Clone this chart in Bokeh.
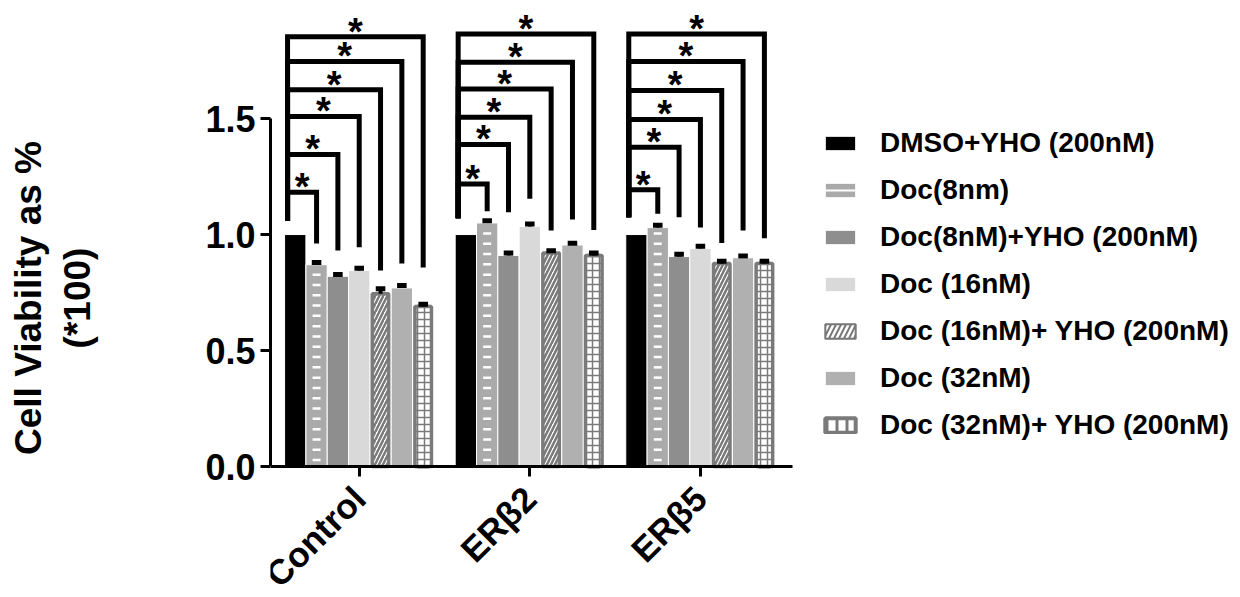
import math
import numpy as np
from bokeh.plotting import figure
from bokeh.models import Range1d, FixedTicker, Legend, LegendItem, PrintfTickFormatter, ColumnDataSource
from bokeh.core.properties import value
from bokeh.embed import file_html
from bokeh.resources import INLINE

# ---------------- data ----------------
groups = ["Control", "ERβ2", "ERβ5"]
treatments = ["DMSO+YHO (200nM)", "Doc(8nm)", "Doc(8nM)+YHO (200nM)", "Doc (16nM)",
              "Doc (16nM)+ YHO (200nM)", "Doc (32nM)", "Doc (32nM)+ YHO (200nM)"]

dmso_yho = [1.00, 1.00, 1.00]
doc8 = [0.87, 1.05, 1.03]
doc8_yho = [0.82, 0.91, 0.905]
doc16 = [0.845, 1.035, 0.94]
doc16_yho = [0.745, 0.92, 0.875]
doc32 = [0.77, 0.955, 0.90]
doc32_yho = [0.69, 0.91, 0.875]

err_dmso_yho = [0.0, 0.0, 0.0]
err_doc8 = [0.010, 0.010, 0.010]
err_doc8_yho = [0.008, 0.010, 0.010]
err_doc16 = [0.010, 0.010, 0.010]
err_doc16_yho = [0.021, 0.010, 0.010]
err_doc32 = [0.010, 0.008, 0.008]
err_doc32_yho = [0.010, 0.010, 0.010]

# significance brackets (vs DMSO+YHO), levels and right-leg ends per group
bracket_level_control = [1.182, 1.345, 1.509, 1.624, 1.746, 1.853]
bracket_level_erb2 = [1.218, 1.388, 1.506, 1.628, 1.743, 1.865]
bracket_level_erb5 = [1.193, 1.376, 1.496, 1.621, 1.746, 1.865]
bracket_end_control = [0.961, 0.931, 0.945, 0.845, 0.875, 0.858]
bracket_end_erb2 = [1.100, 1.096, 1.154, 1.017, 1.065, 1.020]
bracket_end_erb5 = [1.090, 1.075, 1.030, 0.964, 1.017, 0.984]
bracket_start = [1.06, 1.07, 1.075]

y_ticks = [0.0, 0.5, 1.0, 1.5]

means = [dmso_yho, doc8, doc8_yho, doc16, doc16_yho, doc32, doc32_yho]
errs = [err_dmso_yho, err_doc8, err_doc8_yho, err_doc16, err_doc16_yho, err_doc32, err_doc32_yho]
levels = [bracket_level_control, bracket_level_erb2, bracket_level_erb5]
ends = [bracket_end_control, bracket_end_erb2, bracket_end_erb5]

# ---------------- figure ----------------
FONT = "Liberation Sans"
X_LO, X_HI = -0.52, 2.54
p = figure(width=1238, height=595, output_backend="svg", toolbar_location=None,
           x_range=Range1d(X_LO, 5.154), y_range=Range1d(-0.556, 2.009),
           min_border_left=270, min_border_right=0, min_border_top=0, min_border_bottom=0)
p.outline_line_color = None
p.xgrid.visible = False
p.ygrid.visible = False

n = len(treatments)
slot = 0.125
gx = np.arange(len(groups))

def xs_for(i):
    return gx + (i - (n - 1) / 2) * slot

sources = [ColumnDataSource(dict(x=xs_for(i), top=means[i])) for i in range(n)]

# legend-only swatch renderers, drawn first so that the bars hide them
leg_line = p.line(x="x", y="top", source=sources[1], line_color="white", line_width=2)
leg_hatch1 = p.vbar(x="x", top="top", width=slot - 0.06, source=sources[4],
                    fill_color="#777777", line_color="#777777", line_width=2,
                    hatch_pattern="/", hatch_color="white", hatch_weight=2.5, hatch_scale=10)
leg_hatch2 = p.vbar(x="x", top="top", width=slot - 0.06, source=sources[6],
                    fill_color="white", line_color="#7a7a7a", line_width=4,
                    hatch_pattern="|", hatch_color="#7a7a7a", hatch_weight=3, hatch_scale=10)

solid_colors = {0: "#000000", 1: "#aaaaaa", 2: "#8e8e8e", 3: "#d9d9d9", 5: "#b0b0b0"}
renderers = {}
for i in range(n):
    src = sources[i]
    if i in solid_colors:
        r = p.vbar(x="x", top="top", width=slot, source=src, fill_color=solid_colors[i],
                   line_color="white", line_width=1)
    elif i == 4:
        r = p.vbar(x="x", top="top", width=slot - 0.028, source=src, fill_color="white",
                   line_color="#7a7a7a", line_width=3.5, hatch_pattern="/",
                   hatch_color="#7a7a7a", hatch_weight=2.5, hatch_scale=8)
    else:
        r = p.vbar(x="x", top="top", width=slot - 0.028, source=src, fill_color="white",
                   line_color="#7a7a7a", line_width=3.5, hatch_pattern="+",
                   hatch_color="#7a7a7a", hatch_weight=1.5, hatch_scale=7)
    renderers[i] = r

# white dashes texture on Doc(8nm) bars
dx, dy = [], []
for xv, mv in zip(xs_for(1), doc8):
    ys = np.arange(0.028, mv - 0.02, 0.0444)
    dx += [xv] * len(ys)
    dy += list(ys)
p.scatter(dx, dy, marker="dash", size=8, line_color="white", line_width=2.5)

# error bars (upper)
for i in range(n):
    xs = xs_for(i)
    for xv, mv, ev in zip(xs, means[i], errs[i]):
        if ev <= 0:
            continue
        p.segment(x0=[xv], y0=[mv], x1=[xv], y1=[mv + ev], line_color="black", line_width=4)
        p.segment(x0=[xv - 0.028], y0=[mv + ev], x1=[xv + 0.028], y1=[mv + ev],
                  line_color="black", line_width=5)

# significance brackets
bx, by = [], []
sx, sy = [], []
for g in range(len(groups)):
    xl = xs_for(0)[g] - 0.045
    for k in range(n - 1):
        xr = xs_for(k + 1)[g]
        lv = levels[g][k]
        bx.append([xl, xl, xr, xr])
        by.append([bracket_start[g], lv, lv, ends[g][k]])
        sx.append((xl + xr) / 2)
        sy.append(lv + 0.022)
p.multi_line(bx, by, line_color="black", line_width=5, line_join="miter", line_cap="butt")
p.text(sx, sy, text=["*"] * len(sx), text_font=value(FONT), text_font_style="bold",
       text_font_size="38px", text_align="center", text_baseline="middle", text_color="black")

# ---------------- axes ----------------
for ax in (p.xaxis[0], p.yaxis[0]):
    ax.axis_line_width = 3
    ax.axis_line_color = "black"
    ax.major_tick_line_width = 3
    ax.major_tick_line_color = "black"
    ax.major_tick_out = 10
    ax.major_tick_in = 0
    ax.minor_tick_line_color = None
    ax.major_label_text_font = FONT
    ax.major_label_text_font_style = "bold"
    ax.major_label_text_color = "black"

p.yaxis.ticker = FixedTicker(ticks=y_ticks)
p.yaxis.bounds = (0, 1.5)
p.yaxis.formatter = PrintfTickFormatter(format="%.1f")
p.yaxis.major_label_text_font_size = "36px"
p.yaxis.major_label_standoff = 5
p.yaxis.axis_label = "Cell Viability as %\n(*100)"
p.yaxis.axis_label_text_font = FONT
p.yaxis.axis_label_text_font_style = "bold"
p.yaxis.axis_label_text_font_size = "37px"
p.yaxis.axis_label_text_color = "black"
p.yaxis.axis_label_standoff = 104

p.xaxis.fixed_location = 0
p.xaxis.bounds = (X_LO, X_HI)
p.xaxis.ticker = FixedTicker(ticks=list(range(len(groups))))
p.xaxis.major_label_overrides = {i: g for i, g in enumerate(groups)}
p.xaxis.major_label_orientation = math.pi / 4
p.xaxis.major_label_text_font_size = "35px"
p.xaxis.major_label_standoff = 16

# ---------------- legend ----------------
items = [
    LegendItem(label=treatments[0], renderers=[renderers[0]]),
    LegendItem(label=treatments[1], renderers=[renderers[1], leg_line]),
    LegendItem(label=treatments[2], renderers=[renderers[2]]),
    LegendItem(label=treatments[3], renderers=[renderers[3]]),
    LegendItem(label=treatments[4], renderers=[leg_hatch1]),
    LegendItem(label=treatments[5], renderers=[renderers[5]]),
    LegendItem(label=treatments[6], renderers=[leg_hatch2]),
]
legend = Legend(items=items, location=(551, 154), padding=0, margin=0,
                border_line_color=None, background_fill_alpha=0,
                glyph_width=38, glyph_height=18, label_standoff=21,
                label_height=32, spacing=15,
                label_text_font=FONT, label_text_font_style="bold",
                label_text_font_size="28px", label_text_color="black")
p.add_layout(legend, "center")

open("out.html", "w").write(file_html(p, INLINE))
